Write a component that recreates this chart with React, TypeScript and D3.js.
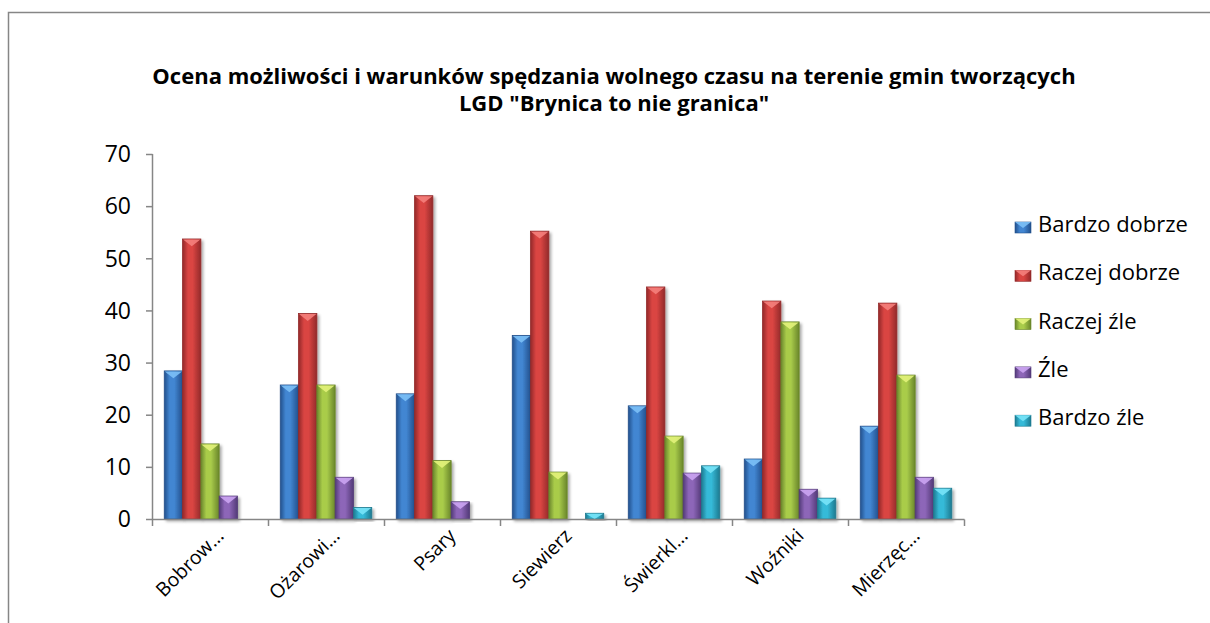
import React from "react";
import * as d3 from "d3";

const categories = ["Bobrow…", "Ożarowi…", "Psary", "Siewierz", "Świerkl…", "Woźniki", "Mierzęc…"];
const seriesNames = ["Bardzo dobrze", "Raczej dobrze", "Raczej źle", "Źle", "Bardzo źle"];
const bardzoDobrze = [28.4, 25.7, 24.0, 35.2, 21.7, 11.5, 17.8];
const raczejDobrze = [53.7, 39.4, 62.0, 55.2, 44.5, 41.8, 41.4];
const raczejZle = [14.4, 25.7, 11.2, 9.0, 15.9, 37.8, 27.6];
const zle = [4.4, 8.0, 3.3, 0, 8.8, 5.7, 8.0];
const bardzoZle = [0, 2.2, 0, 1.1, 10.2, 4.0, 5.9];
const yTicks = [0, 10, 20, 30, 40, 50, 60, 70];
const titleLines = [
  "Ocena możliwości i warunków spędzania wolnego czasu na terenie gmin tworzących",
  'LGD "Brynica to nie granica"',
];

const seriesValues = [bardzoDobrze, raczejDobrze, raczejZle, zle, bardzoZle];

// edge, middle, top-triangle colours per series
const palette = [
  { edge: "#22508c", mid: "#4286d2", tip: "#7cc0f6" },
  { edge: "#93292a", mid: "#da4542", tip: "#f47f7c" },
  { edge: "#6a862b", mid: "#a9cc4a", tip: "#e2f27a" },
  { edge: "#533a78", mid: "#8d66b8", tip: "#cba4f2" },
  { edge: "#1d7a90", mid: "#36bad8", tip: "#78e4f8" },
];

const FONT = "'Open Sans', 'Noto Sans', sans-serif";

export default function App() {
  const width = 1210;
  const height = 623;

  const x = d3.scaleBand<string>().domain(categories).range([152, 964]).padding(0);
  const inner = d3
    .scaleBand<string>()
    .domain(seriesNames)
    .range([0, x.bandwidth()])
    .paddingInner(0)
    .paddingOuter(0.67);
  const y = d3.scaleLinear().domain([0, 70]).range([519, 154]);

  const bw = inner.bandwidth();

  return (
    <svg
      width={width}
      height={height}
      style={{ position: "absolute", left: 0, top: 0, background: "#fff" }}
    >
      <defs>
        {palette.map((p, i) => (
          <linearGradient key={i} id={`g${i}`} x1="0" x2="1" y1="0" y2="0">
            <stop offset="0" stopColor={p.edge} />
            <stop offset="0.3" stopColor={p.mid} />
            <stop offset="0.55" stopColor={p.mid} />
            <stop offset="1" stopColor={p.edge} />
          </linearGradient>
        ))}
        <filter id="shadow" x="-20%" y="-10%" width="150%" height="130%">
          <feGaussianBlur in="SourceAlpha" stdDeviation="1.5" />
          <feOffset dx="2" dy="2" result="b" />
          <feComponentTransfer>
            <feFuncA type="linear" slope="0.35" />
          </feComponentTransfer>
          <feMerge>
            <feMergeNode />
            <feMergeNode in="SourceGraphic" />
          </feMerge>
        </filter>
      </defs>

      {/* chart frame */}
      <rect x={8.5} y={12.5} width={1300} height={700} fill="none" stroke="#868686" strokeWidth={1.5} />

      {/* title */}
      <text textAnchor="middle" fontFamily={FONT} fontWeight="bold" fontSize={22} fill="#000">
        {titleLines.map((t, i) => (
          <tspan key={i} x={614} y={84 + i * 26.5}>
            {t}
          </tspan>
        ))}
      </text>

      {/* y axis */}
      <line x1={152.5} x2={152.5} y1={y(70)} y2={y(0)} stroke="#868686" strokeWidth={1.5} />
      {yTicks.map((t) => (
        <g key={t}>
          <line x1={146} x2={152.5} y1={y(t) + 0.5} y2={y(t) + 0.5} stroke="#868686" strokeWidth={1.5} />
          <text
            x={131}
            y={y(t)}
            dy="0.36em"
            textAnchor="end"
            fontFamily={FONT}
            fontSize={23}
            fill="#000"
          >
            {t}
          </text>
        </g>
      ))}

      {/* bars */}
      {categories.map((c, ci) => (
        <g key={c} transform={`translate(${x(c)},0)`}>
          {seriesNames.map((s, si) => {
            const v = seriesValues[si][ci];
            if (v <= 0) return null;
            const bx = inner(s)!;
            const top = y(v);
            const h = y(0) - top;
            const th = Math.min(bw * 0.4, h);
            const p = palette[si];
            return (
              <g key={s} filter="url(#shadow)">
                <rect x={bx} y={top} width={bw} height={h} fill={`url(#g${si})`} stroke={p.edge} strokeWidth={0.8} />
                <polygon
                  points={`${bx + 0.5},${top + 0.5} ${bx + bw - 0.5},${top + 0.5} ${bx + bw / 2},${top + th}`}
                  fill={p.tip}
                  opacity={0.9}
                />
              </g>
            );
          })}
        </g>
      ))}

      {/* x axis */}
      <line x1={152} x2={964.5} y1={519.5} y2={519.5} stroke="#868686" strokeWidth={1.5} />
      {[...categories.map((c) => x(c)!), 964].map((tx, i) => (
        <line key={i} x1={tx + 0.5} x2={tx + 0.5} y1={519.5} y2={526} stroke="#868686" strokeWidth={1.5} />
      ))}
      {categories.map((c) => {
        const cx = x(c)! + x.bandwidth() / 2 + 15;
        return (
          <text
            key={c}
            transform={`translate(${cx},${537}) rotate(-45)`}
            textAnchor="end"
            fontFamily={FONT}
            fontSize={19.5}
            fill="#000"
          >
            {c}
          </text>
        );
      })}

      {/* legend */}
      {seriesNames.map((s, i) => {
        const ly = 224 + i * 48.3;
        const p = palette[i];
        return (
          <g key={s}>
            <rect x={1015} y={ly - 2} width={16} height={11} fill={`url(#g${i})`} stroke={p.edge} strokeWidth={0.6} />
            <polygon points={`${1015},${ly - 2} ${1031},${ly - 2} ${1023},${ly + 4}`} fill={p.tip} opacity={0.9} />
            <text x={1038} y={ly} dy="0.36em" fontFamily={FONT} fontSize={22} fill="#000">
              {s}
            </text>
          </g>
        );
      })}
    </svg>
  );
}
